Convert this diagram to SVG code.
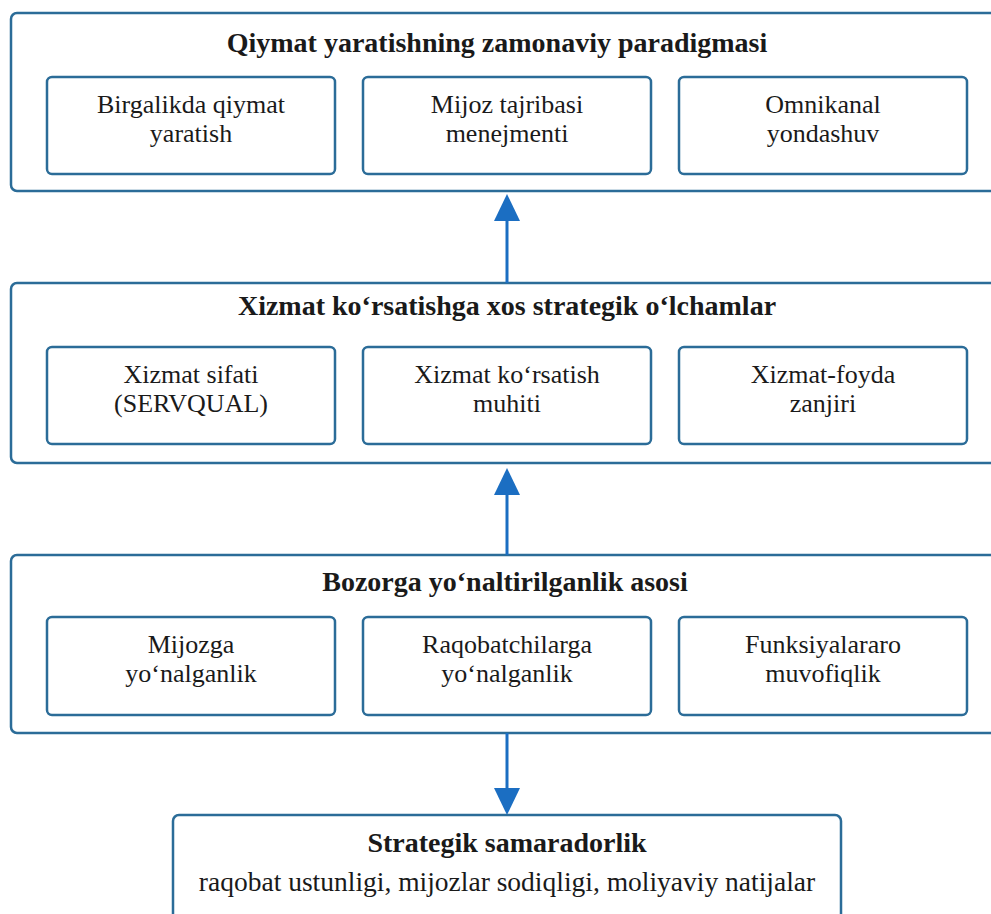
<svg xmlns="http://www.w3.org/2000/svg" width="991" height="914" viewBox="0 0 991 914">
<style>
.outer{fill:#ffffff;stroke:#2b6c98;stroke-width:2.5}
.inner{fill:#ffffff;stroke:#2b6c98;stroke-width:2.5}
.t{font-family:"Liberation Serif","Times New Roman",serif;font-size:26px;fill:#1a1a1a;text-anchor:middle}
.b{font-weight:bold;font-size:28px}
.s{font-size:27.5px}
.con{stroke:#1b6ec2;stroke-width:3;fill:none}
</style>
<defs>
<marker id="ah" markerUnits="userSpaceOnUse" markerWidth="28" markerHeight="26" refX="21" refY="13" orient="auto">
<path d="M0,0 L27,13 L0,26 z" fill="#1b6ec2"/>
</marker>
</defs>
<rect width="991" height="914" fill="#ffffff"/>

<g id="layer1">
<rect class="outer" x="11" y="13" width="992" height="178" rx="6"/>
<text class="t b" x="497" y="52">Qiymat yaratishning zamonaviy paradigmasi</text>
</g>
<g id="n-birgalikda">
<rect class="inner" x="47" y="77" width="288" height="97" rx="5"/>
<text class="t" x="191" y="113">Birgalikda qiymat<tspan x="191" dy="29">yaratish</tspan></text>
</g>
<g id="n-mijoz-tajribasi">
<rect class="inner" x="363" y="77" width="288" height="97" rx="5"/>
<text class="t" x="507" y="113">Mijoz tajribasi<tspan x="507" dy="29">menejmenti</tspan></text>
</g>
<g id="n-omnikanal">
<rect class="inner" x="679" y="77" width="288" height="97" rx="5"/>
<text class="t" x="823" y="113">Omnikanal<tspan x="823" dy="29">yondashuv</tspan></text>
</g>

<g id="layer2">
<rect class="outer" x="11" y="283" width="992" height="180" rx="6"/>
<text class="t b" x="507" y="315">Xizmat ko‘rsatishga xos strategik o‘lchamlar</text>
</g>
<g id="n-xizmat-sifati">
<rect class="inner" x="47" y="347" width="288" height="97" rx="5"/>
<text class="t" x="191" y="383">Xizmat sifati<tspan x="191" dy="29">(SERVQUAL)</tspan></text>
</g>
<g id="n-xizmat-muhiti">
<rect class="inner" x="363" y="347" width="288" height="97" rx="5"/>
<text class="t" x="507" y="383">Xizmat ko‘rsatish<tspan x="507" dy="29">muhiti</tspan></text>
</g>
<g id="n-xizmat-foyda">
<rect class="inner" x="679" y="347" width="288" height="97" rx="5"/>
<text class="t" x="823" y="383">Xizmat-foyda<tspan x="823" dy="29">zanjiri</tspan></text>
</g>

<g id="layer3">
<rect class="outer" x="11" y="555" width="992" height="178" rx="6"/>
<text class="t b" x="505" y="591">Bozorga yo‘naltirilganlik asosi</text>
</g>
<g id="n-mijozga">
<rect class="inner" x="47" y="617" width="288" height="98" rx="5"/>
<text class="t" x="191" y="653">Mijozga<tspan x="191" dy="29">yo‘nalganlik</tspan></text>
</g>
<g id="n-raqobatchilarga">
<rect class="inner" x="363" y="617" width="288" height="98" rx="5"/>
<text class="t" x="507" y="653">Raqobatchilarga<tspan x="507" dy="29">yo‘nalganlik</tspan></text>
</g>
<g id="n-funksiyalararo">
<rect class="inner" x="679" y="617" width="288" height="98" rx="5"/>
<text class="t" x="823" y="653">Funksiyalararo<tspan x="823" dy="29">muvofiqlik</tspan></text>
</g>

<g id="n-strategik-samaradorlik">
<rect class="outer" x="173" y="815" width="668" height="120" rx="6"/>
<text class="t b" x="507" y="852">Strategik samaradorlik</text>
<text class="t s" x="507" y="891">raqobat ustunligi, mijozlar sodiqligi, moliyaviy natijalar</text>
</g>

<g id="connectors">
<line class="con" x1="507" y1="283" x2="507" y2="200" marker-end="url(#ah)"/>
<line class="con" x1="507" y1="555" x2="507" y2="474" marker-end="url(#ah)"/>
<line class="con" x1="507" y1="733" x2="507" y2="809" marker-end="url(#ah)"/>
</g>
</svg>
